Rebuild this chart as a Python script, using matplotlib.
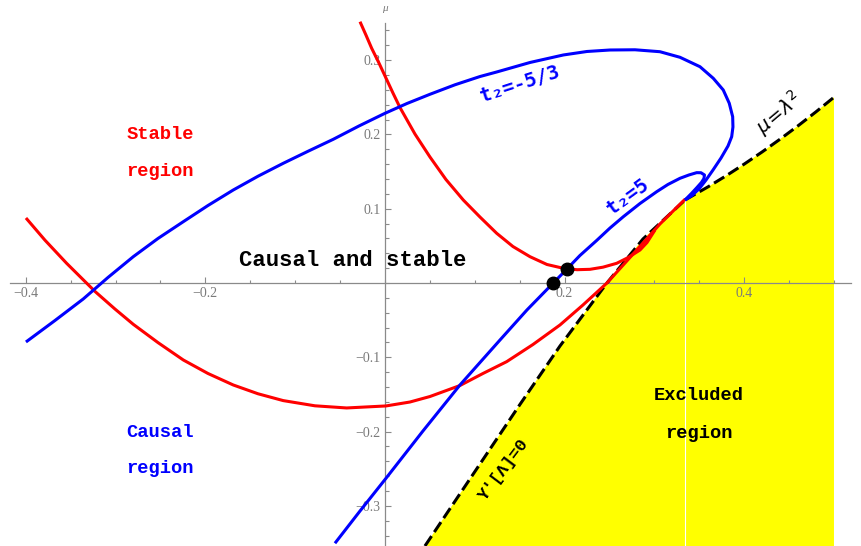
#!/usr/bin/env python
import matplotlib
matplotlib.use('Agg')
import matplotlib.pyplot as plt
import numpy as np
from matplotlib.ticker import FixedLocator

# curve t2 = -5/3 (blue) as (lambda, mu)
blue_a_lam = [-0.3998, -0.3675, -0.3360, -0.3085, -0.2803, -0.2528, -0.2246,
              -0.1971, -0.1689, -0.1414, -0.1133, -0.0857, -0.0576, -0.0290,
              0.0, 0.0245, 0.0501, 0.0780, 0.1058, 0.1244, 0.1615, 0.1986,
              0.2249, 0.2506, 0.2784, 0.3062, 0.3285, 0.3508, 0.3656, 0.3767,
              0.3834, 0.3872, 0.3875, 0.3861, 0.3820, 0.3742, 0.3653, 0.3575,
              0.3497, 0.3419, 0.3341]
blue_a_mu = [-0.0794, -0.0505, -0.0215, 0.0074, 0.0354, 0.0599, 0.0825,
             0.1043, 0.1252, 0.1437, 0.1611, 0.1773, 0.1934, 0.2113,
             0.2284, 0.2416, 0.2540, 0.2668, 0.2779, 0.2840, 0.2968, 0.3069,
             0.3116, 0.3136, 0.3139, 0.3113, 0.3038, 0.2911, 0.2755, 0.2598,
             0.2419, 0.2238, 0.2100, 0.1969, 0.1844, 0.1682, 0.1521, 0.1386,
             0.1265, 0.1178, 0.1117]

# curve t2 = 5 (blue)
blue_b_lam = [-0.0557, -0.0278, 0.0011, 0.0423, 0.0835, 0.1058, 0.1281,
              0.1581, 0.1874, 0.2023, 0.2171, 0.2357, 0.2506, 0.2654, 0.2840,
              0.3026, 0.3151, 0.3285, 0.3385, 0.3471, 0.3519, 0.3558, 0.3552,
              0.3524, 0.3474, 0.3413, 0.3341]
blue_b_mu = [-0.3503, -0.3069, -0.2629, -0.1992, -0.1373, -0.1070, -0.0767,
             -0.0363, 0.0, 0.0184, 0.0370, 0.0572, 0.0740, 0.0892, 0.1070,
             0.1229, 0.1326, 0.1409, 0.1454, 0.1485, 0.1484, 0.1454, 0.1406,
             0.1353, 0.1285, 0.1205, 0.1117]

# stability curves (red)
red_a_lam = [-0.3998, -0.3786, -0.3545, -0.3229, -0.3007, -0.2803, -0.2528,
             -0.2246, -0.1971, -0.1689, -0.1414, -0.1133, -0.0780, -0.0427,
             0.0011, 0.0278, 0.0501, 0.0835, 0.1091, 0.1355, 0.1648, 0.1949,
             0.2205, 0.2472, 0.2673, 0.2873, 0.3062, 0.3341]
red_a_mu = [0.0875, 0.0576, 0.0265, -0.0114, -0.0350, -0.0556, -0.0802,
            -0.1036, -0.1218, -0.1373, -0.1491, -0.1583, -0.1653, -0.1682,
            -0.1655, -0.1602, -0.1528, -0.1380, -0.1218, -0.1059, -0.0828,
            -0.0565, -0.0296, 0.0, 0.0269, 0.0538, 0.0794, 0.1127]

red_b_lam = [-0.0278, -0.0212, -0.0148, -0.0067, 0.0011, 0.0089, 0.0167,
             0.0334, 0.0501, 0.0679, 0.0872, 0.1058, 0.1244, 0.1425, 0.1615,
             0.1804, 0.1986, 0.2138, 0.2283, 0.2428, 0.2580, 0.2706, 0.2840,
             0.2918, 0.3007]
red_b_mu = [0.3517, 0.3338, 0.3159, 0.2961, 0.2759, 0.2557, 0.2362,
            0.2005, 0.1696, 0.1393, 0.1117, 0.0888, 0.0669, 0.0491, 0.0354,
            0.0249, 0.0198, 0.0179, 0.0184, 0.0213, 0.0265, 0.0341, 0.0444,
            0.0545, 0.0713]

# boundary Y'[Lambda]=0 and mu = lambda^2
ups_lam = [0.0445, 0.1058, 0.1503, 0.1949, 0.2472, 0.2873, 0.3341]
ups_mu = [-0.354, -0.2436, -0.1635, -0.0848, 0.0, 0.0592, 0.1117]
sq_lam = [0.3341, 0.36, 0.38, 0.40, 0.42, 0.44, 0.46, 0.48, 0.50]
sq_mu = [0.1117, 0.1296, 0.1444, 0.1600, 0.1764, 0.1936, 0.2116, 0.2304, 0.25]

# marked points
dot_lam = [0.1874, 0.2023]
dot_mu = [0.0004, 0.0184]

BLUE = '#0000ff'
RED = '#ff0000'
GRAY = '#8a8a8a'

fig = plt.figure(figsize=(8.61, 5.46), dpi=100)
ax = fig.add_axes([0, 0, 1, 1])
ax.set_xlim(-0.4287, 0.5301)
ax.set_ylim(-0.354, 0.3809)

# excluded region
fill_lam = ups_lam + sq_lam[1:] + [0.5, ups_lam[0]]
fill_mu = ups_mu + sq_mu[1:] + [-0.354, -0.354]
ax.fill(fill_lam, fill_mu, color='#ffff00', lw=0, zorder=1)
ax.plot([ups_lam[-1], ups_lam[-1]], [-0.354, ups_mu[-1]], color='white',
        lw=0.8, zorder=1.2)

ax.plot(ups_lam, ups_mu, color='black', lw=2.2, dashes=(3.9, 1.6), zorder=3)
ax.plot(sq_lam, sq_mu, color='black', lw=2.2, dashes=(3.9, 1.6), zorder=3)

for lam, mu, col, z in [(red_a_lam, red_a_mu, RED, 4),
                        (red_b_lam, red_b_mu, RED, 4),
                        (blue_a_lam, blue_a_mu, BLUE, 5),
                        (blue_b_lam, blue_b_mu, BLUE, 5)]:
    ax.plot(lam, mu, color=col, lw=2.2, zorder=z, solid_joinstyle='round',
            solid_capstyle='butt')
ax.plot(dot_lam, dot_mu, 'o', color='black', markersize=9, zorder=6)

# axes through the origin, Mathematica style
for side in ['top', 'right']:
    ax.spines[side].set_visible(False)
ax.spines['left'].set_position(('data', 0))
ax.spines['bottom'].set_position(('data', 0))
ax.spines['left'].set_bounds(-0.354, 0.35)
ax.spines['bottom'].set_bounds(-0.4176, 0.519)
for side in ['left', 'bottom']:
    ax.spines[side].set_color(GRAY)
    ax.spines[side].set_linewidth(0.9)

ax.xaxis.set_major_locator(FixedLocator([-0.4, -0.2, 0.2, 0.4]))
ax.xaxis.set_minor_locator(FixedLocator(np.arange(-0.4, 0.501, 0.05)))
ax.yaxis.set_major_locator(FixedLocator([-0.3, -0.2, -0.1, 0.1, 0.2, 0.3]))
ax.yaxis.set_minor_locator(FixedLocator(np.arange(-0.34, 0.341, 0.02)))
ax.tick_params(which='both', direction='in', color=GRAY, width=0.8,
               labelcolor='#7a7a7a', labelsize=10)
ax.tick_params(axis='x', which='major', length=4, pad=3)
ax.tick_params(axis='x', which='minor', length=2.5)
ax.tick_params(axis='y', which='major', length=4.5, pad=3)
ax.tick_params(axis='y', which='minor', length=3)
for lab in ax.get_xticklabels() + ax.get_yticklabels():
    lab.set_fontfamily('Liberation Serif')

ax.text(0, 0.370, 'μ', color='#7a7a7a', fontsize=8, style='italic',
        family='Liberation Serif', ha='center', va='center')

mono = 'Liberation Mono'
ax.text(-0.2506, 0.1992, 'Stable', color=RED, family=mono, weight='bold',
        fontsize=13.5, ha='center', va='center', zorder=7)
ax.text(-0.2506, 0.1494, 'region', color=RED, family=mono, weight='bold',
        fontsize=13.5, ha='center', va='center', zorder=7)
ax.text(-0.2506, -0.2019, 'Causal', color=BLUE, family=mono, weight='bold',
        fontsize=13.5, ha='center', va='center', zorder=7)
ax.text(-0.2506, -0.2503, 'region', color=BLUE, family=mono, weight='bold',
        fontsize=13.5, ha='center', va='center', zorder=7)
ax.text(-0.0356, 0.030, 'Causal and stable', color='black', family=mono,
        weight='bold', fontsize=16, ha='center', va='center', zorder=7)
ax.text(0.3493, -0.1521, 'Excluded', color='black', family=mono,
        weight='bold', fontsize=13.5, ha='center', va='center', zorder=7)
ax.text(0.3493, -0.2023, 'region', color='black', family=mono,
        weight='bold', fontsize=13.5, ha='center', va='center', zorder=7)

ax.text(0.1503, 0.2678, 't₂=-5/3', color=BLUE, family='DejaVu Sans Mono',
        weight='bold', fontsize=14, rotation=18, ha='center', va='center',
        rotation_mode='anchor', zorder=7)
ax.text(0.2700, 0.1162, 't₂=5', color=BLUE, family='DejaVu Sans Mono',
        weight='bold', fontsize=14, rotation=36, ha='center', va='center',
        rotation_mode='anchor', zorder=7)
ax.text(0.438, 0.228, r'$\mu\!=\!\lambda^{2}$', color='black', fontsize=14,
        rotation=40, ha='center', va='center', rotation_mode='anchor',
        zorder=7)
ax.text(0.1318, -0.2508, "Υ'[Λ]=0", color='black', family=mono,
        weight='bold', fontsize=12.5, rotation=53, ha='center', va='center',
        rotation_mode='anchor', zorder=7)

fig.savefig('out.png', dpi=100)
